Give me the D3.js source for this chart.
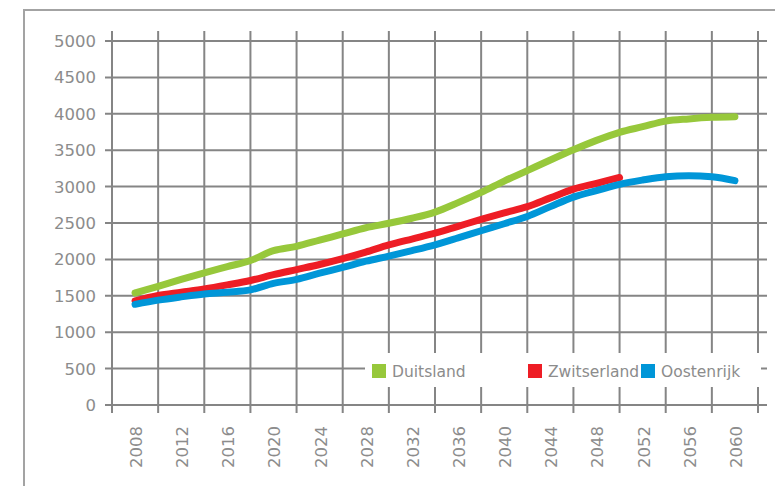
<!DOCTYPE html>
<html>
<head>
<meta charset="utf-8">
<script src="https://d3js.org/d3.v7.min.js"></script>
<style type="text/css">
* { box-sizing:border-box; }
body { margin:0; background:#fff; }
text { font-family:'DejaVu Sans', sans-serif; fill:#8c8c8c; }
</style>
</head>
<body>
<div id="chart"></div>
<script>
// years and values
var years = [2008, 2010, 2012, 2014, 2016, 2018, 2020, 2022, 2024, 2026, 2028, 2030, 2032, 2034, 2036, 2038, 2040, 2042, 2044, 2046, 2048, 2050, 2052, 2054, 2056, 2058, 2060];
var duitsland = [1540, 1630, 1725, 1815, 1900, 1985, 2120, 2180, 2265, 2350, 2435, 2496, 2565, 2650, 2780, 2920, 3075, 3220, 3365, 3505, 3635, 3746, 3823, 3900, 3930, 3951, 3960];
var zwitserland = [1430, 1505, 1550, 1595, 1650, 1710, 1790, 1860, 1930, 2010, 2100, 2198, 2280, 2360, 2455, 2550, 2640, 2724, 2845, 2965, 3045, 3125];
var oostenrijk = [1383, 1440, 1485, 1525, 1550, 1582, 1670, 1725, 1810, 1890, 1975, 2045, 2120, 2200, 2295, 2394, 2490, 2590, 2725, 2855, 2945, 3031, 3090, 3136, 3150, 3136, 3081];
var series = [
  {name:"Duitsland", color:"#97c83b", values:duitsland},
  {name:"Zwitserland", color:"#ee1d25", values:zwitserland},
  {name:"Oostenrijk", color:"#0096d8", values:oostenrijk}
];
var yTicks = [0, 500, 1000, 1500, 2000, 2500, 3000, 3500, 4000, 4500, 5000];
var xLabels = d3.range(2008, 2061, 4);
var gridYears = d3.range(2006, 2063, 4);

var width = 775, height = 486;

var svg = d3.select("#chart").append("svg")
  .attr("width", width)
  .attr("height", height);

// frame round the whole chart (runs off the page right and bottom)
svg.append("rect")
  .attr("x", 24).attr("y", 10)
  .attr("width", 800).attr("height", 520)
  .style("fill", "none")
  .style("stroke", "#a3a3a3")
  .style("stroke-width", 2);

var x = d3.scaleLinear().domain([2006, 2062]).range([112, 758]);
var y = d3.scaleLinear().domain([0, 5000]).range([405, 41]);

var grid = svg.append("g").style("stroke", "#858585").style("stroke-width", 2);

// horizontal lines (stick out past the axis like ticks)
grid.selectAll(".h").data(yTicks).enter().append("line")
  .attr("x1", 105).attr("x2", 767)
  .attr("y1", function(d) { return y(d); })
  .attr("y2", function(d) { return y(d); });

// vertical lines
grid.selectAll(".v").data(gridYears).enter().append("line")
  .attr("x1", function(d) { return x(d); })
  .attr("x2", function(d) { return x(d); })
  .attr("y1", 31).attr("y2", 413);

// y labels
svg.append("g").selectAll("text").data(yTicks).enter().append("text")
  .attr("x", 96)
  .attr("y", function(d) { return y(d); })
  .attr("dy", "0.36em")
  .attr("text-anchor", "end")
  .style("font-size", "16.5px")
  .text(function(d) { return d; });

// x labels, rotated
svg.append("g").selectAll("text").data(xLabels).enter().append("text")
  .attr("transform", function(d) { return "translate(" + (x(d) + 1) + ",426) rotate(-90)"; })
  .attr("dy", "0.36em")
  .attr("text-anchor", "end")
  .style("font-size", "16.5px")
  .text(function(d) { return d; });

// legend box sits on top of the grid
var legend = svg.append("g");
legend.append("rect")
  .attr("x", 365).attr("y", 353)
  .attr("width", 396).attr("height", 34)
  .style("fill", "#fff");

var legendX = [372, 528, 641];
series.forEach(function(s, i) {
  legend.append("rect")
    .attr("x", legendX[i]).attr("y", 364)
    .attr("width", 14).attr("height", 14)
    .style("fill", s.color);
  legend.append("text")
    .attr("x", legendX[i] + 20).attr("y", 371)
    .attr("dy", "0.36em")
    .style("font-size", "15.5px")
    .text(s.name);
});

// the lines
var line = d3.line()
  .x(function(d) { return x(d.year); })
  .y(function(d) { return y(d.value); })
  .curve(d3.curveMonotoneX);

series.forEach(function(s) {
  var pts = s.values.map(function(v, i) { return {year: years[i], value: v}; });
  svg.append("path")
    .datum(pts)
    .attr("d", line)
    .style("fill", "none")
    .style("stroke", s.color)
    .style("stroke-width", 7)
    .style("stroke-linecap", "round")
    .style("stroke-linejoin", "round");
});
</script>
</body>
</html>
